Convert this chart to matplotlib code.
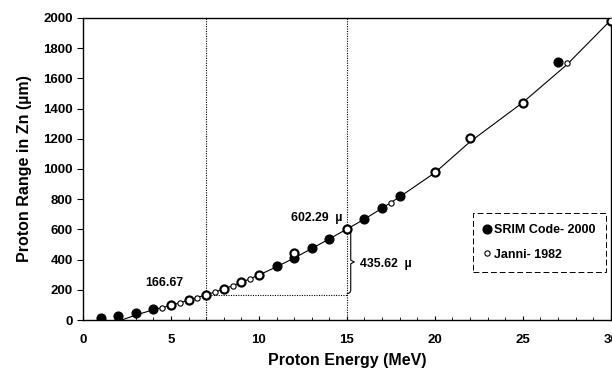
import matplotlib
matplotlib.use("Agg")
import matplotlib.pyplot as plt
import matplotlib.ticker as mticker
import numpy as np

plt.rcParams['font.family'] = ['Liberation Sans', 'DejaVu Sans']
plt.rcParams['font.weight'] = 'bold'

# SRIM Code 2000 (filled markers)
srim_e = [1, 2, 3, 4, 11, 12, 13, 14, 16, 17, 18, 27]
srim_r = [11, 26, 46, 71, 357, 408, 475, 536, 669, 744, 819, 1709]

# Janni 1982 (open markers)
janni_e = [4.5, 5, 5.5, 6, 6.5, 7, 7.5, 8, 8.5, 9, 9.5, 10, 12, 15, 17.5, 20, 22, 25, 27.5, 30]
janni_r = [82, 97, 112, 132, 148, 167, 185, 205, 225, 251, 274, 299, 441, 602, 777, 980, 1203, 1439, 1700, 1982]

# fitted curve
curve_e = [2.2, 3, 4, 5, 6, 7, 8, 9, 10, 11, 12, 13, 14, 15, 16, 17, 18, 20, 22, 25, 27.5, 30]
curve_r = [0, 33, 68, 97, 131, 167, 205, 249, 298, 352, 410, 473, 537, 602, 668, 740, 815, 975, 1180, 1440, 1690, 1985]

# marked energies / ranges
e_low, e_high = 7, 15
r_low, r_high = 166.67, 602.29

fig = plt.figure(figsize=(6.12, 3.73), dpi=100)
ax = fig.add_axes([0.1356, 0.142, 0.8624, 0.81])

ax.plot(curve_e, curve_r, color="black", linewidth=0.8, zorder=2)

# guide lines
dot = dict(color="black", linewidth=0.8, linestyle=(0, (1, 1.2)), zorder=1)
ax.plot([e_low, e_low], [0, 2000], **dot)
ax.plot([e_high, e_high], [0, 2000], **dot)
ax.plot([e_low, e_high], [r_low, r_low], **dot)

# brace between the two ranges
bx, bw = 15.22, 0.2
ymid = (r_low + r_high) / 2
ax.plot([bx - bw, bx - 0.05, bx, bx, bx + bw, bx, bx, bx - 0.05, bx - bw],
        [r_high - 8, r_high - 14, r_high - 30, ymid + 12, ymid, ymid - 12,
         r_low + 30, r_low + 14, r_low + 8],
        color="black", linewidth=0.8, zorder=3)

ax.plot(srim_e, srim_r, linestyle="none", marker="o", markersize=6.3,
        markerfacecolor="black", markeredgecolor="black", zorder=4,
        label="SRIM Code- 2000")

janni_e_arr = np.array(janni_e)
big = janni_e_arr % 1 == 0
ax.plot(janni_e_arr[big], np.array(janni_r)[big], linestyle="none", marker="o",
        markersize=5.8, markerfacecolor="white", markeredgecolor="black",
        markeredgewidth=1.6, zorder=5)
ax.plot(janni_e_arr[~big], np.array(janni_r)[~big], linestyle="none", marker="o",
        markersize=3.8, markerfacecolor="white", markeredgecolor="black",
        markeredgewidth=0.8, zorder=5, label="Janni- 1982")

ax.text(4.63, 245, "166.67", fontsize=8.8, fontweight="bold", ha="center", va="center")
ax.text(11.85, 675, "602.29  µ", fontsize=8.8, fontweight="bold", ha="left", va="center")
ax.text(15.77, 371, "435.62  µ", fontsize=8.8, fontweight="bold", ha="left", va="center")

ax.set_xlim(0, 30)
ax.set_ylim(0, 2000)
ax.xaxis.set_major_locator(mticker.MultipleLocator(5))
ax.xaxis.set_minor_locator(mticker.MultipleLocator(1))
ax.yaxis.set_major_locator(mticker.MultipleLocator(200))
ax.tick_params(axis="x", direction="in", length=3, width=0.8, labelsize=9.5, pad=10)
ax.tick_params(axis="x", which="minor", direction="in", length=2, width=0.6)
ax.tick_params(axis="y", direction="out", length=4, width=0.8, labelsize=9.5)
for lab in ax.get_xticklabels() + ax.get_yticklabels():
    lab.set_fontweight("bold")
for sp in ax.spines.values():
    sp.set_linewidth(1.0)

ax.set_xlabel("Proton Energy (MeV)", fontsize=11.5, fontweight="bold", labelpad=5)
ax.set_ylabel("Proton Range in Zn (µm)", fontsize=11.5, fontweight="bold", labelpad=8)

leg = ax.legend(loc="upper left", bbox_to_anchor=(0.739, 0.354),
                handlelength=0.5, handletextpad=0.25, borderpad=0.9,
                labelspacing=1.0, fancybox=False, framealpha=1,
                borderaxespad=0, prop={"weight": "bold", "size": 9})
leg.get_frame().set_edgecolor("black")
leg.get_frame().set_linewidth(0.7)
leg.get_frame().set_linestyle((0, (6, 3)))

fig.savefig("out.png", dpi=100)
